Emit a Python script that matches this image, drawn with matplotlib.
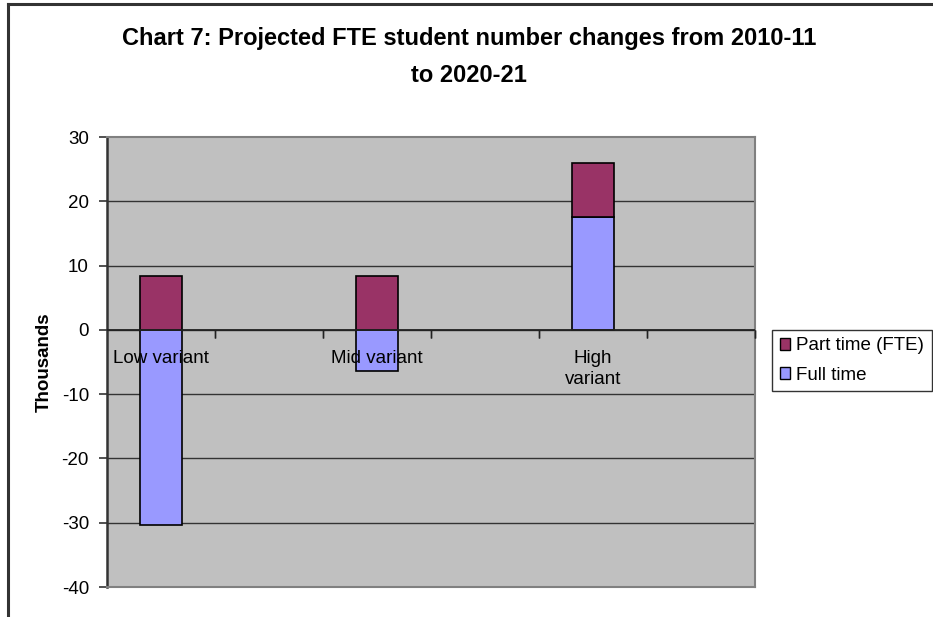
import numpy as np
import matplotlib
matplotlib.use("Agg")
import matplotlib.pyplot as plt
from matplotlib.patches import Rectangle
from matplotlib.lines import Line2D
import matplotlib.transforms as mtransforms

plt.rcParams['font.family'] = ['Liberation Sans', 'DejaVu Sans']
plt.rcParams['axes.unicode_minus'] = False

# ---- data ----
categories = ["Low variant", "", "Mid variant", "", "High variant", ""]
tick_labels = ["Low variant", "", "Mid variant", "", "High\nvariant", ""]
full_time = [-30.3, np.nan, -6.4, np.nan, 17.6, np.nan]
part_time = [8.4, np.nan, 8.4, np.nan, 8.4, np.nan]
series_names = ["Part time (FTE)", "Full time"]
y_ticks = [-40, -30, -20, -10, 0, 10, 20, 30]
title = "Chart 7: Projected FTE student number changes from 2010-11\nto 2020-21"
y_label = "Thousands"

c_part = "#993366"
c_full = "#9999FF"

W, H = 933, 617
fig = plt.figure(figsize=(W / 100, H / 100), dpi=100)
fig.patch.set_facecolor("white")

# figure border (chart area) - only left and top visible
fig.add_artist(Line2D([8 / W, 8 / W], [0, 1 - 4 / H], transform=fig.transFigure,
                      color="#333333", lw=2.2))
fig.add_artist(Line2D([8 / W, 1], [1 - 4 / H, 1 - 4 / H], transform=fig.transFigure,
                      color="#333333", lw=2.2))

left, right, top, bottom = 107, 755, 137, 587
ax = fig.add_axes([left / W, 1 - bottom / H, (right - left) / W, (bottom - top) / H])
ax.set_facecolor("#C0C0C0")

x = np.arange(len(categories))
fw = np.array(full_time, dtype=float)
pw = np.array(part_time, dtype=float)
part_bottom = np.where(fw > 0, fw, 0)

ax.set_xlim(-0.5, len(categories) - 0.5)
ax.set_ylim(min(y_ticks), max(y_ticks))

for yv in y_ticks[1:-1]:
    ax.axhline(yv, color="#333333", lw=1.0, zorder=1)

ax.bar(x, fw, width=0.39, color=c_full, edgecolor="black", lw=1.2, zorder=3,
       label=series_names[1])
ax.bar(x, pw, bottom=part_bottom, width=0.39, color=c_part, edgecolor="black",
       lw=1.2, zorder=3, label=series_names[0])

# zero axis line with tick marks at category boundaries
ax.axhline(0, color="#222222", lw=1.3, zorder=4)
for b in np.arange(-0.5, len(categories) + 0.5, 1.0)[1:]:
    ax.add_line(Line2D([b, b], [0, 0], transform=ax.transData, color="#222222",
                       lw=1.2, marker=matplotlib.markers.TICKDOWN,
                       markersize=6, zorder=4, clip_on=False))

# category labels below the zero line
offset = mtransforms.ScaledTranslation(0, -20 / 100, fig.dpi_scale_trans)
for xi, lab in zip(x, tick_labels):
    if lab:
        ax.text(xi, 0, lab, transform=ax.transData + offset, ha="center", va="top",
                fontsize=13.5, linespacing=1.3, zorder=5)

ax.set_xticks([])
ax.set_yticks(y_ticks)
ax.tick_params(axis="y", length=6, width=1.2, color="#333333", labelsize=13.5, pad=7)
for s in ["top", "right", "bottom"]:
    ax.spines[s].set_color("#808080")
    ax.spines[s].set_linewidth(1.5)
ax.spines["left"].set_color("#333333")
ax.spines["left"].set_linewidth(1.8)

ax.set_ylabel(y_label, fontsize=13.5, fontweight="bold", labelpad=6)

fig.text(469 / W, 1 - 57 / H, title, ha="center", va="center", fontsize=17,
         fontweight="bold", linespacing=1.75)

# legend
handles = [Rectangle((0, 0), 1, 1, facecolor=c_part, edgecolor="black", lw=1.0),
           Rectangle((0, 0), 1, 1, facecolor=c_full, edgecolor="black", lw=1.0)]
leg = fig.legend(handles, series_names, loc="upper left",
                 bbox_to_anchor=(772 / W, 1 - 330 / H), fontsize=13.5,
                 frameon=True, fancybox=False, handlelength=0.55, handleheight=0.55,
                 handletextpad=0.35, borderpad=0.4, labelspacing=0.65,
                 borderaxespad=0)
leg.get_frame().set_edgecolor("black")
leg.get_frame().set_linewidth(1.0)

fig.savefig("out.png", dpi=100)
